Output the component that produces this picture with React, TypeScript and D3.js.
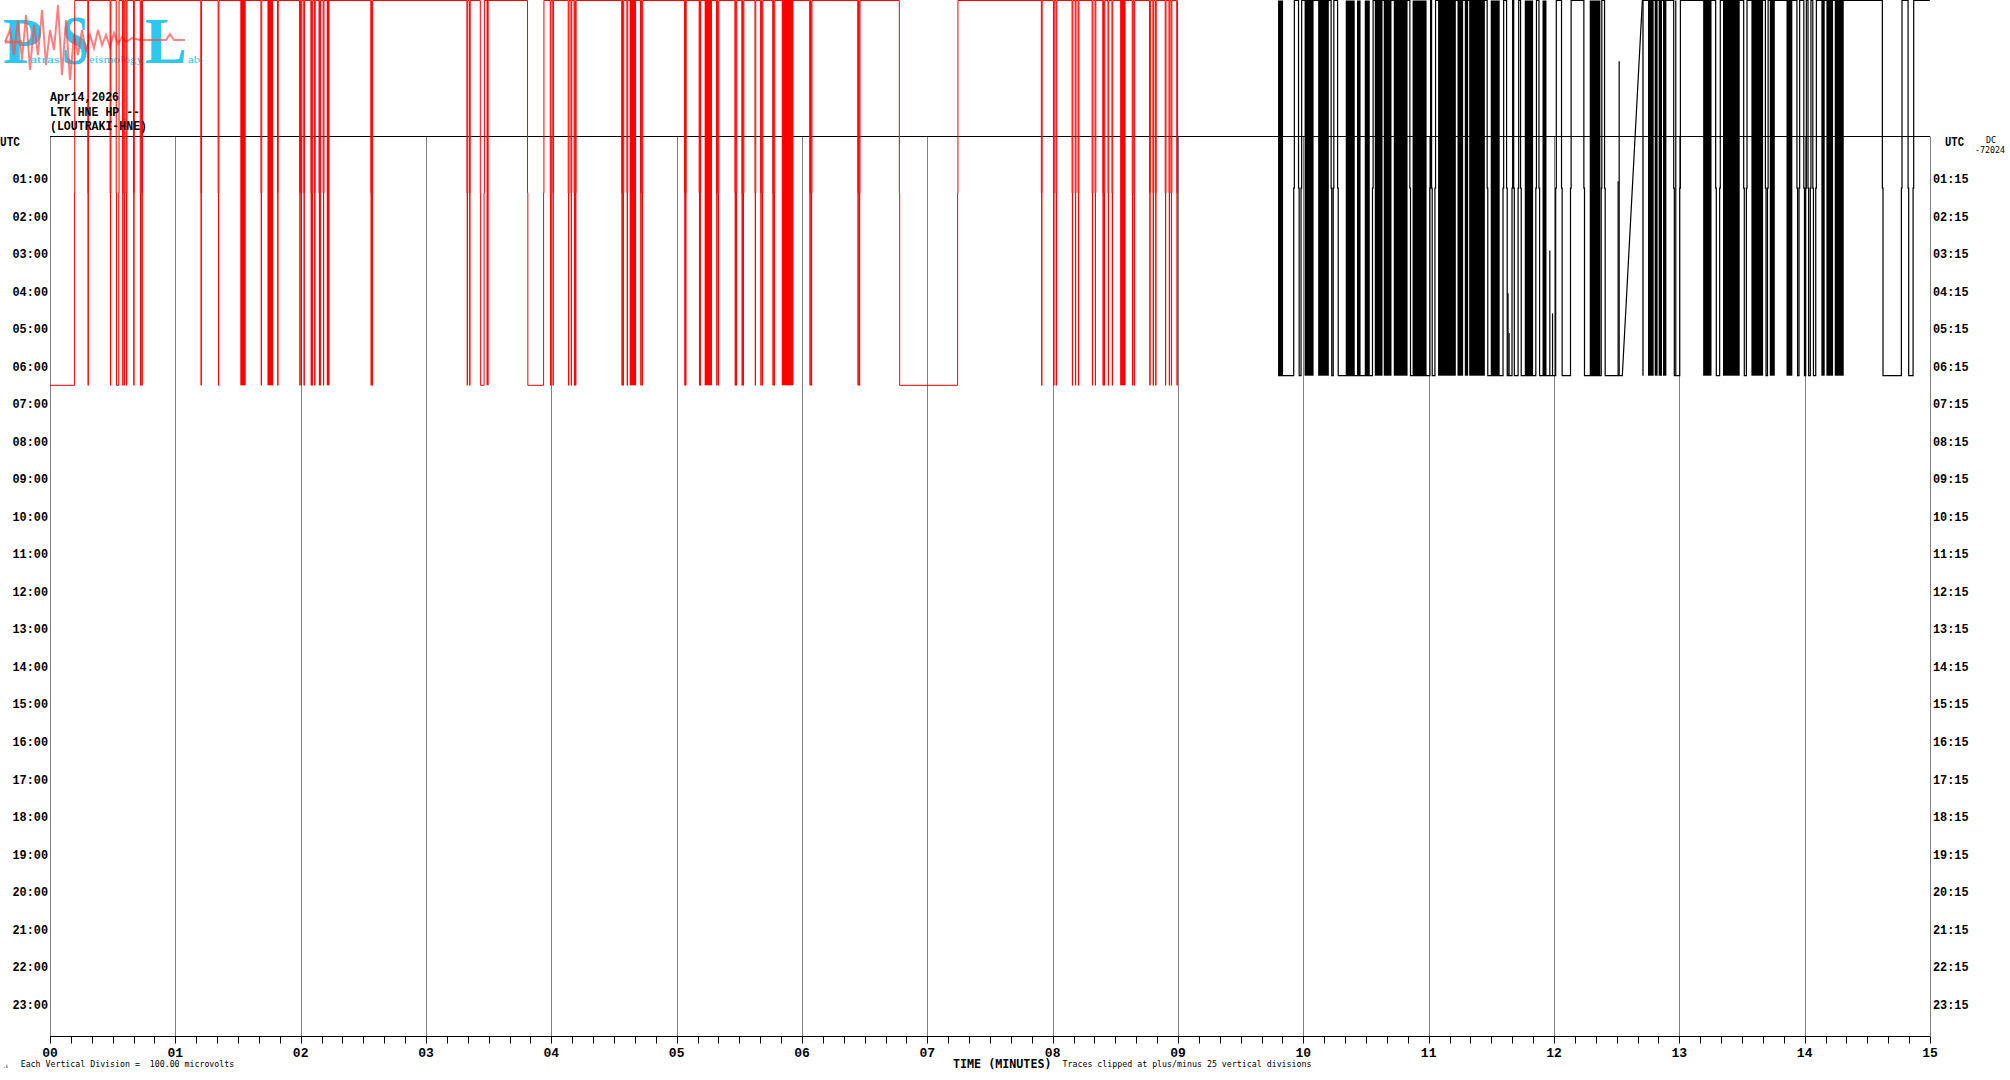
import React from 'react';
import * as d3 from 'd3';

const W = 2010;
const H = 1080;

// ---- axis / label data ----
const minuteLabels = ['00','01','02','03','04','05','06','07','08','09','10','11','12','13','14','15'];
const hourLabelsLeft = ['01:00','02:00','03:00','04:00','05:00','06:00','07:00','08:00','09:00','10:00','11:00','12:00','13:00','14:00','15:00','16:00','17:00','18:00','19:00','20:00','21:00','22:00','23:00'];
const hourLabelsRight = ['01:15','02:15','03:15','04:15','05:15','06:15','07:15','08:15','09:15','10:15','11:15','12:15','13:15','14:15','15:15','16:15','17:15','18:15','19:15','20:15','21:15','22:15','23:15'];

// ---- red trace (seconds, amplitude in vertical divisions, clipped at +/-25) ----
const redStart = 0;
const redEnd = 539.9;
const redLowRuns: [number, number][] = [[0, 11.7], [31.7, 32.9], [206.0, 207.8], [228.6, 236.3], [406.6, 434.5]];
const redSpikeTimes = [18.2, 28.9, 34.8, 35.6, 36.6, 40.1, 43.3, 44.0, 72.3, 80.6, 101.1, 109.0, 119.6, 120.3, 121.6, 125.0, 125.5, 126.7, 128.9, 129.3, 130.9, 153.7, 154.2, 199.7, 200.9, 239.6, 240.8, 248.2, 249.5, 251.0, 251.6, 273.8, 274.4, 276.3, 282.8, 283.5, 303.9, 304.3, 310.9, 311.2, 319.2, 319.9, 328.0, 328.5, 331.3, 331.9, 337.6, 340.3, 341.0, 346.1, 346.7, 363.8, 364.5, 386.8, 387.5, 474.7, 480.5, 481.7, 489.4, 490.9, 492.3, 499.0, 500.4, 504.1, 504.7, 506.6, 508.5, 518.2, 519.0, 526.5, 528.1, 529.3, 534.0, 535.8, 536.8, 539.5];
const redBursts: [number, number][] = [[91.1, 93.7], [104.1, 106.8], [132.5, 133.8], [209.0, 210.0], [277.5, 280.6], [313.4, 316.9], [350.3, 355.9], [512.3, 514.9]];

// ---- black trace ----
const blackStart = 587.9;
const blackEnd = 899.9;
const blackStartLevel = -25;
const blackToggleTimes = [595.4, 597.7, 598.9, 613.3, 614.3, 616.4, 633.1, 651.0, 660.6, 661.4, 663.0, 688.0, 695.6, 697.3, 699.9, 700.7, 702.8, 704.0, 711.3, 712.8, 720.8, 723.6, 727.9, 734.3, 742.6, 744.2, 777.3, 780.2, 797.4, 799.3, 810.8, 812.1, 821.2, 822.2, 836.3, 837.3, 839.6, 840.5, 841.6, 842.7, 843.9, 845.3, 877.2, 886.3, 889.5, 891.9];
const blackRamp: [number, number] = [752.7, 762.3];
const blackBursts: [number, number][] = [[587.9, 590.3], [600.6, 604.9], [607.1, 612.2], [620.3, 624.6], [625.7, 627.4], [629.4, 631.8], [634.2, 637.9], [638.5, 642.2], [643.3, 649.9], [652.3, 659.0], [664.5, 673.0], [673.8, 676.5], [677.3, 678.9], [679.4, 686.9], [689.7, 694.0], [706.0, 710.0], [714.5, 716.4], [737.1, 742.2], [762.3, 762.9], [765.0, 767.7], [768.2, 769.6], [770.1, 771.7], [772.2, 773.8], [791.4, 795.4], [800.9, 808.9], [814.5, 820.1], [823.3, 825.7], [831.3, 834.1], [848.0, 849.6], [850.4, 853.6], [854.4, 858.7]];
const blackPartials: [number, number, number][] = [[698.0, -25, -14], [698.5, -25, -19.3], [718.0, -25, -8.3], [719.3, -25, -16.7], [750.7, -25, 0.9], [751.2, -25, 16.9], [778.3, 25, -25]];

// ---- logo decoration ----
const logoWave: [number, number][] = [[5,42],[10,30],[14,55],[18,20],[22,60],[26,15],[30,70],[34,25],[38,55],[42,10],[46,65],[50,30],[54,50],[58,5],[62,75],[66,20],[70,80],[74,35],[78,55],[82,30],[86,52],[90,35],[94,48],[98,30],[102,45],[106,35],[110,47],[114,33],[118,44],[122,37],[126,42],[132,38],[140,40],[150,40],[160,40],[166,40],[170,34],[174,40],[185,40]];

const MONO = '"Liberation Mono", "DejaVu Sans Mono", monospace';
const SMALL = '"DejaVu Sans Mono", monospace';
const CYAN = '#2cc8f0';

export default function App() {
  const x = d3.scaleLinear().domain([0, 900]).range([50, 1930]);
  const row = d3.scaleLinear().domain([0, 24]).range([142.5, 142.5 + 24 * 37.53]);
  const yRed = d3.scaleLinear().domain([-25, 25]).range([385.3, 0.5]);
  const yBlack = d3.scaleLinear().domain([-25, 25]).range([375.7, 0.5]);
  const px = (t: number) => Math.round(x(t)) + 0.5;

  // red path
  const lows = [...redLowRuns, ...redSpikeTimes.map(t => [t - 0.12, t + 0.12] as [number, number])].sort((a, b) => a[0] - b[0]);
  const rp: [number, number][] = [];
  for (const [a, b] of lows) {
    if (a <= redStart) {
      rp.push([redStart, -25]);
    } else {
      if (rp.length === 0) rp.push([redStart, 25]);
      rp.push([a, 25], [a, 0], [a + 0.15, 0], [a + 0.15, -25]);
    }
    rp.push([b, -25], [b, 0], [b + 0.15, 0], [b + 0.15, 25]);
  }
  rp.push([redEnd, 25]);

  // black path
  type Ev = { t: number; kind: 'toggle' | 'ramp' };
  const evs: Ev[] = [...blackToggleTimes.map(t => ({ t, kind: 'toggle' as const })), { t: blackRamp[0], kind: 'ramp' as const }].sort((a, b) => a.t - b.t);
  let cur = blackStartLevel;
  const bp: [number, number][] = [[blackStart, cur]];
  for (const e of evs) {
    if (e.kind === 'toggle') {
      bp.push([e.t, cur], [e.t, 0], [e.t + 0.3, 0], [e.t + 0.3, -cur]);
      cur = -cur;
    } else {
      bp.push([blackRamp[0], cur], [blackRamp[1], 25]);
      cur = 25;
    }
  }
  bp.push([blackEnd, cur]);

  const redLine = d3.line<[number, number]>().x(d => x(d[0])).y(d => yRed(d[1]));
  const blackLine = d3.line<[number, number]>().x(d => x(d[0])).y(d => yBlack(d[1]));
  const waveLine = d3.line<[number, number]>().x(d => d[0]).y(d => d[1]).curve(d3.curveLinear);

  const ticks = d3.range(0, 901, 10);
  const majors = d3.range(0, 901, 60);
  const axisY = 1036.5;
  const topY = 136.5;

  return (
    <svg width={W} height={H} style={{ position: 'absolute', left: 0, top: 0, background: '#fff' }} xmlns="http://www.w3.org/2000/svg">
      <rect x={0} y={0} width={W} height={H} fill="#fff" />
      {/* logo */}
      <g>
        <text x={3} y={63} fontFamily='"Liberation Serif", serif' fontWeight="bold" fontSize={66} fill={CYAN} textLength={40} lengthAdjust="spacingAndGlyphs">P</text>
        <text x={62} y={64} fontFamily='"Liberation Serif", serif' fontWeight="bold" fontSize={70} fill={CYAN} textLength={27} lengthAdjust="spacingAndGlyphs">S</text>
        <text x={145} y={63} fontFamily='"Liberation Serif", serif' fontWeight="bold" fontSize={66} fill={CYAN} textLength={42} lengthAdjust="spacingAndGlyphs">L</text>
        <path d={waveLine(logoWave) || ''} fill="none" stroke="#ff4a4a" strokeOpacity={0.7} strokeWidth={2} />
        <line x1={5} x2={22} y1={42} y2={42} stroke="#ff4a4a" strokeOpacity={0.7} strokeWidth={3} />
        <text x={30} y={63} fontFamily='"Liberation Serif", serif' fontSize={11} fill={CYAN} textLength={30} lengthAdjust="spacingAndGlyphs">atras</text>
        <text x={89} y={63} fontFamily='"Liberation Serif", serif' fontSize={11} fill={CYAN} textLength={54} lengthAdjust="spacingAndGlyphs">eismology</text>
        <text x={188} y={63} fontFamily='"Liberation Serif", serif' fontSize={11} fill={CYAN} textLength={12} lengthAdjust="spacingAndGlyphs">ab</text>
      </g>

      {/* grid verticals */}
      {majors.map(t => (
        <line key={'g' + t} x1={px(t)} x2={px(t)} y1={topY} y2={axisY} stroke="#808080" strokeWidth={1} />
      ))}
      {/* top line */}
      <line x1={x(0)} x2={x(900)} y1={topY} y2={topY} stroke="#000" strokeWidth={1} />

      {/* red trace */}
      {redBursts.map(([a, b], i) => (
        <rect key={'rb' + i} x={x(a)} y={yRed(25)} width={x(b) - x(a)} height={yRed(-25) - yRed(25)} fill="#ff0000" />
      ))}
      <path d={redLine(rp) || ''} fill="none" stroke="#ff0000" strokeWidth={1} />

      {/* black trace */}
      {blackBursts.map(([a, b], i) => (
        <rect key={'bb' + i} x={x(a)} y={yBlack(25)} width={x(b) - x(a)} height={yBlack(-25) - yBlack(25)} fill="#000" />
      ))}
      <path d={blackLine(bp) || ''} fill="none" stroke="#000" strokeWidth={1.2} />
      {blackPartials.map(([t, a, b], i) => (
        <line key={'bp' + i} x1={x(t)} x2={x(t)} y1={yBlack(a)} y2={yBlack(b)} stroke="#000" strokeWidth={1.2} />
      ))}

      {/* header text */}
      <g fontFamily={MONO} fontWeight="bold" fontSize={12} fill="#000">
        <text x={50} y={98} dominantBaseline="central" textLength={69} lengthAdjust="spacingAndGlyphs">Apr14,2026</text>
        <text x={50} y={113} dominantBaseline="central" textLength={90} lengthAdjust="spacingAndGlyphs">LTK HNE HP --</text>
        <text x={50} y={127} dominantBaseline="central" textLength={97} lengthAdjust="spacingAndGlyphs">(LOUTRAKI-HNE)</text>
      </g>

      {/* left / right labels */}
      <g fontFamily={MONO} fontWeight="bold" fontSize={12.5} fill="#000">
        <text x={0} y={row(0)} dominantBaseline="central" textLength={20} lengthAdjust="spacingAndGlyphs">UTC</text>
        {hourLabelsLeft.map((l, i) => (
          <text key={'l' + l} x={12.5} y={row(i + 1)} dominantBaseline="central" textLength={35.5} lengthAdjust="spacingAndGlyphs">{l}</text>
        ))}
        <text x={1945} y={row(0)} dominantBaseline="central" textLength={19} lengthAdjust="spacingAndGlyphs">UTC</text>
        {hourLabelsRight.map((l, i) => (
          <text key={'r' + l} x={1933} y={row(i + 1)} dominantBaseline="central" textLength={35.5} lengthAdjust="spacingAndGlyphs">{l}</text>
        ))}
      </g>
      <g fontFamily={SMALL} fontSize={8} fill="#000">
        <text x={1986} y={140.5} dominantBaseline="central" textLength={10} lengthAdjust="spacingAndGlyphs">DC</text>
        <text x={1975} y={150.5} dominantBaseline="central" textLength={30} lengthAdjust="spacingAndGlyphs">-72024</text>
      </g>

      {/* x axis */}
      <line x1={x(0)} x2={x(900)} y1={axisY} y2={axisY} stroke="#000" strokeWidth={1} />
      {ticks.map(t => (
        <line key={'t' + t} x1={px(t)} x2={px(t)} y1={axisY} y2={axisY + 7} stroke="#000" strokeWidth={1} />
      ))}
      <g fontFamily={MONO} fontWeight="bold" fontSize={13} fill="#000">
        {majors.map((t, i) => (
          <text key={'ml' + t} x={x(t)} y={1053.5} textAnchor="middle" dominantBaseline="central">{minuteLabels[i]}</text>
        ))}
      </g>
      <text x={953} y={1063.5} dominantBaseline="central" fontFamily={SMALL} fontWeight="bold" fontSize={11.5} textLength={98.5} lengthAdjust="spacingAndGlyphs">TIME (MINUTES)</text>
      <text x={1062.5} y={1064} dominantBaseline="central" fontFamily={SMALL} fontSize={8.3} textLength={249} lengthAdjust="spacingAndGlyphs">Traces clipped at plus/minus 25 vertical divisions</text>
      <text x={20.7} y={1064} dominantBaseline="central" fontFamily={SMALL} fontSize={8.3} textLength={213.5} lengthAdjust="spacingAndGlyphs" style={{ whiteSpace: 'pre' }}>{'Each Vertical Division =  100.00 microvolts'}</text>
      <text x={3} y={1065} dominantBaseline="central" fontFamily={SMALL} fontSize={6} textLength={5} lengthAdjust="spacingAndGlyphs">.s</text>
    </svg>
  );
}
